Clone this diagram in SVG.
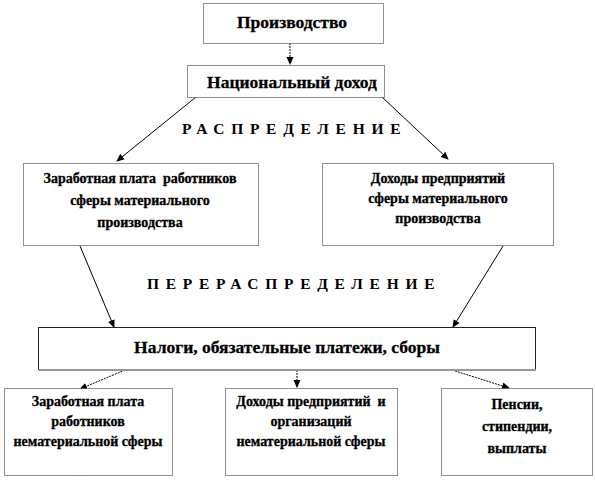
<svg xmlns="http://www.w3.org/2000/svg" width="595" height="480" viewBox="0 0 595 480">
<defs>
<style>
.box{fill:#fff;stroke:#222;stroke-width:1;stroke-dasharray:1 1}
.solid{fill:#fff;stroke:#222;stroke-width:1}
.sh{fill:none;stroke:#999;stroke-width:2}
.t{font-family:'Liberation Serif','DejaVu Serif',serif;font-weight:bold;fill:#000;text-anchor:middle;stroke:#000;stroke-width:0.3}
.s13{font-size:14px}
.s16{font-size:17.5px}
.sp{font-family:'Liberation Serif','DejaVu Serif',serif;font-weight:bold;font-size:15.5px;fill:#000;letter-spacing:6.7px}
.c{fill:none;stroke:#000;stroke-width:1}
.d{fill:none;stroke:#000;stroke-width:1;stroke-dasharray:2 1}
</style>
<marker id="ah" markerWidth="8" markerHeight="8" refX="7" refY="4" orient="auto" markerUnits="userSpaceOnUse">
<path d="M0,0.5 L8,4 L0,7.5 Z" fill="#000"/>
</marker>
</defs>
<rect width="595" height="480" fill="#fff"/>

<g id="connectors">
<line class="d" x1="290" y1="43" x2="290" y2="64" marker-end="url(#ah)"/>
<line class="c" x1="196" y1="97" x2="117" y2="161" marker-end="url(#ah)"/>
<line class="c" x1="382" y1="97" x2="448" y2="159" marker-end="url(#ah)"/>
<line class="c" x1="80" y1="246" x2="114" y2="327" marker-end="url(#ah)"/>
<line class="c" x1="503" y1="246" x2="453" y2="327" marker-end="url(#ah)"/>
<line class="d" x1="125" y1="370" x2="80" y2="389" marker-end="url(#ah)"/>
<line class="d" x1="297" y1="370" x2="297" y2="387" marker-end="url(#ah)"/>
<line class="d" x1="452" y1="370" x2="509" y2="388" marker-end="url(#ah)"/>
</g>

<g id="label-raspr">
<text class="sp" x="182" y="134">РАСПРЕДЕЛЕНИЕ</text>
</g>
<g id="label-perer">
<text class="sp" x="147" y="289">ПЕРЕРАСПРЕДЕЛЕНИЕ</text>
</g>

<g id="node-proizvodstvo">
<rect class="box" x="203.5" y="3.5" width="180" height="40"/>
<text class="t s16" x="292" y="28">Производство</text>
</g>

<g id="node-nac-dohod">
<rect class="box" x="187.5" y="65.5" width="197" height="32"/>
<text class="t s16" x="292" y="88">Национальный доход</text>
</g>

<g id="node-zarplata-mat">
<rect class="box" x="23.5" y="163.5" width="235" height="82"/>
<text class="t s13" x="140" y="183" xml:space="preserve">Заработная плата  работников</text>
<text class="t s13" x="140" y="205">сферы материального</text>
<text class="t s13" x="140" y="227">производства</text>
</g>

<g id="node-dohody-mat">
<rect class="box" x="322.5" y="163.5" width="231" height="82"/>
<text class="t s13" x="438" y="183">Доходы предприятий</text>
<text class="t s13" x="438" y="203">сферы материального</text>
<text class="t s13" x="438" y="223">производства</text>
</g>

<g id="node-nalogi">
<rect class="solid" x="38.5" y="327.5" width="497" height="42"/>
<line class="sh" x1="39" y1="370" x2="536" y2="370"/>
<text class="t s16" x="287" y="353">Налоги, обязательные платежи, сборы</text>
</g>

<g id="node-zarplata-nemat">
<rect class="box" x="4.5" y="388.5" width="168" height="87"/>
<text class="t s13" x="88" y="406">Заработная плата</text>
<text class="t s13" x="88" y="426">работников</text>
<text class="t s13" x="88" y="446">нематериальной сферы</text>
</g>

<g id="node-dohody-nemat">
<rect class="box" x="225.5" y="388.5" width="172" height="87"/>
<text class="t s13" x="311" y="406" xml:space="preserve">Доходы предприятий  и</text>
<text class="t s13" x="311" y="426">организаций</text>
<text class="t s13" x="311" y="446">нематериальной сферы</text>
</g>

<g id="node-pensii">
<rect class="box" x="441.5" y="388.5" width="151" height="87"/>
<text class="t s13" x="517" y="409">Пенсии,</text>
<text class="t s13" x="517" y="431">стипендии,</text>
<text class="t s13" x="517" y="453">выплаты</text>
</g>
</svg>
